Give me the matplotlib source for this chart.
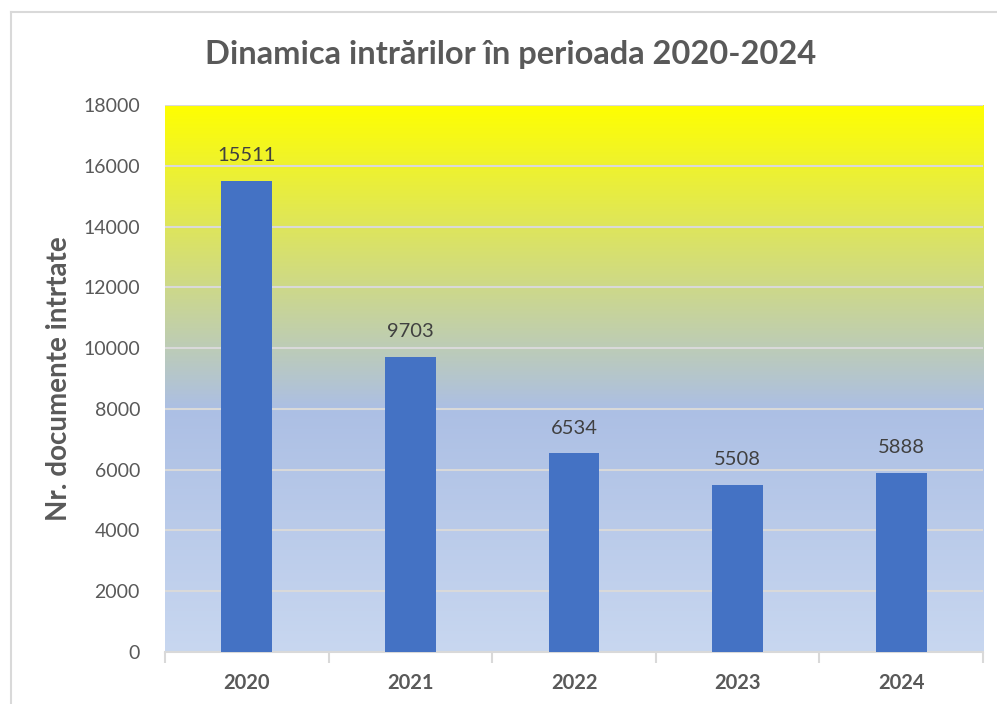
import numpy as np
import matplotlib.pyplot as plt
from matplotlib.lines import Line2D

years = ["2020", "2021", "2022", "2023", "2024"]
documents = [15511, 9703, 6534, 5508, 5888]
yticks = [0, 2000, 4000, 6000, 8000, 10000, 12000, 14000, 16000, 18000]

plt.rcParams['font.family'] = ['Lato', 'DejaVu Sans']

fig = plt.figure(figsize=(9.97, 7.04), dpi=100)
ax = fig.add_axes([0.1655, 0.0739, 0.8205, 0.777])

# background gradient: yellow at the top, light blue below ~8000
stops_y = [0, 8000, 18000]
stops_rgb = np.array([[200, 215, 240], [172, 191, 228], [255, 255, 0]]) / 255.0
yy = np.linspace(0, 18000, 400)
grad = np.stack([np.interp(yy, stops_y, stops_rgb[:, c]) for c in range(3)], axis=-1)
grad = grad[::-1, None, :]
ax.imshow(grad, extent=[-0.5, 4.5, 0, 18000], aspect='auto', zorder=0)

x = np.arange(len(years))
ax.bar(x, documents, width=0.31, color='#4472C4', zorder=3)
for xi, v in zip(x, documents):
    ax.text(xi, v + 550, str(v), ha='center', va='bottom', fontsize=14.5, color='#404040', zorder=4)

ax.set_xlim(-0.5, 4.5)
ax.set_ylim(0, 18000)
ax.set_yticks(yticks)
ax.set_yticklabels([str(t) for t in yticks], fontsize=14, color='#595959')
ax.set_xticks(x)
ax.set_xticklabels(years, fontsize=14.5, fontweight='bold', color='#595959')
ax.set_xticks(np.arange(-0.5, 5, 1), minor=True)
ax.tick_params(axis='x', which='major', length=0, pad=15)
ax.tick_params(axis='x', which='minor', length=8, width=1.5, color='#D9D9D9')
ax.tick_params(axis='y', length=0, pad=18)
ax.grid(axis='y', color='#D9D9D9', linewidth=1.5, zorder=1)
ax.set_axisbelow(False)
for s in ['left', 'right', 'top']:
    ax.spines[s].set_visible(False)
ax.spines['bottom'].set_color('#D9D9D9')
ax.spines['bottom'].set_linewidth(1.5)

ax.set_ylabel("Nr. documente intrtate", fontsize=20, fontweight='bold', color='#595959', labelpad=8)
fig.text(0.512, 0.922, "Dinamica intrărilor în perioada 2020-2024", ha='center', va='center',
         fontsize=23.5, fontweight='bold', color='#595959')

# chart border (light gray, partly visible)
fig.add_artist(Line2D([11 / 997, 11 / 997], [0, 1 - 12 / 704], transform=fig.transFigure, color='#D9D9D9', lw=1.5))
fig.add_artist(Line2D([11 / 997, 1], [1 - 12 / 704, 1 - 12 / 704], transform=fig.transFigure, color='#D9D9D9', lw=1.5))

fig.savefig("out.png", dpi=100)
